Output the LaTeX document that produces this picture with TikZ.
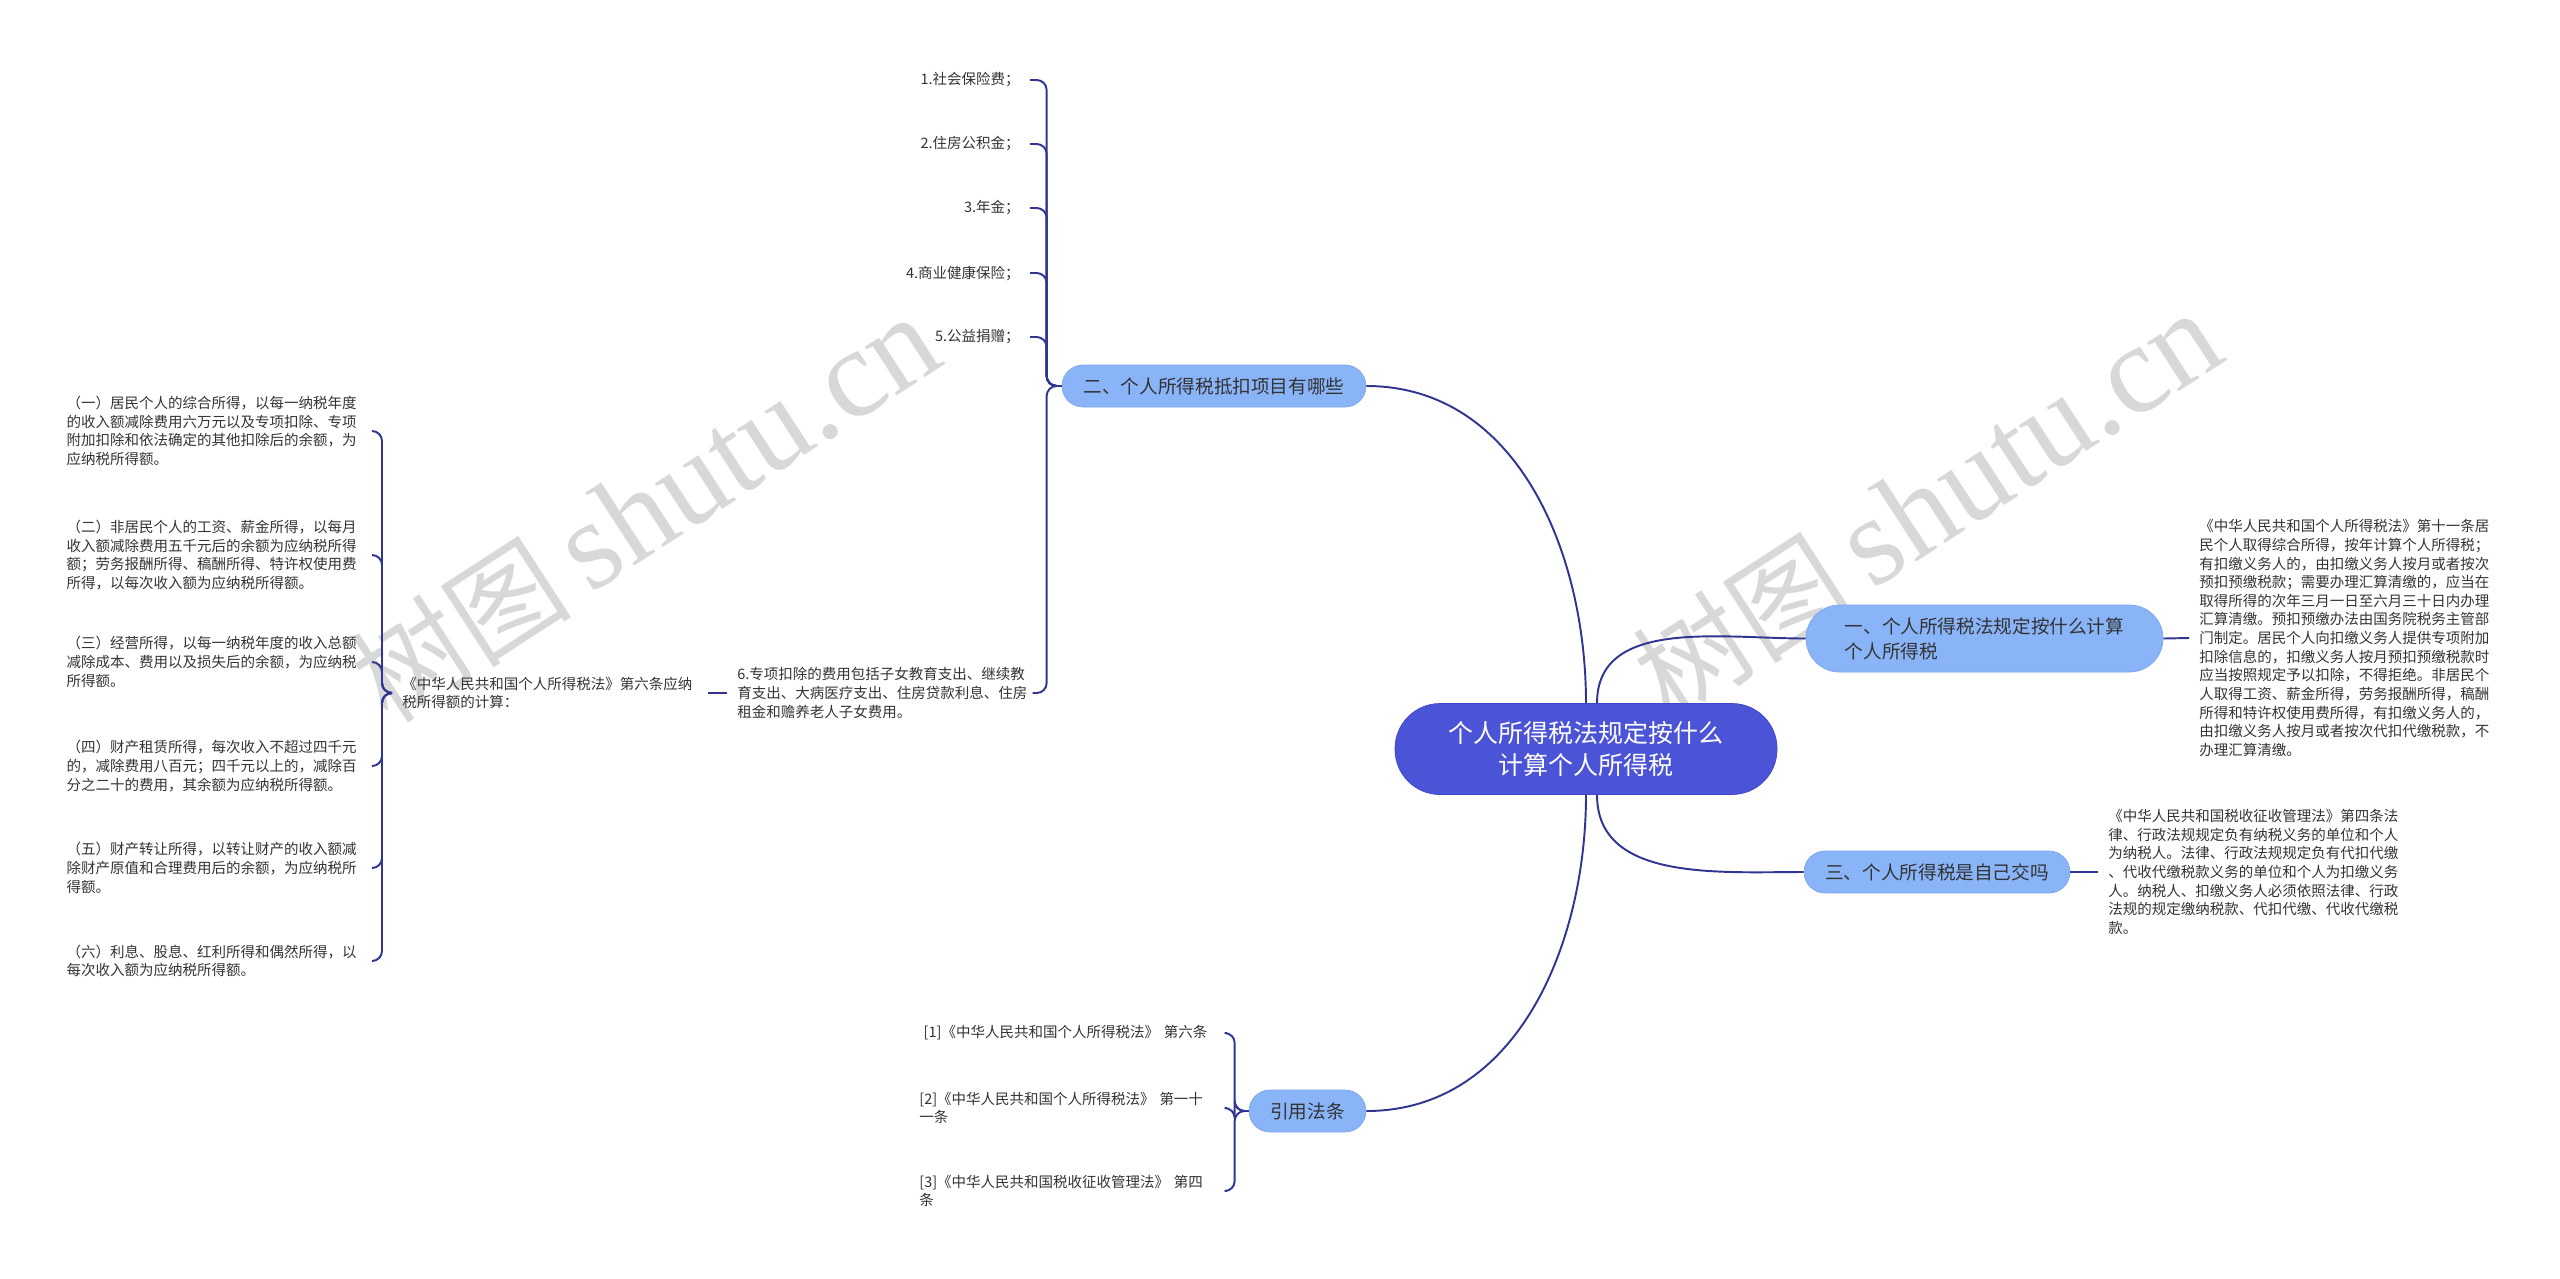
\documentclass[tikz,border=0pt]{standalone}
\usepackage{fontspec}
\usepackage{xcolor}
\usepackage{tikz}
\setmainfont{Noto Sans CJK SC}
\newfontfamily\wmserif{Liberation Serif}
\definecolor{linkblue}{HTML}{2F3590}
\definecolor{rootblue}{HTML}{4B54D6}
\definecolor{rootedge}{HTML}{3F47C4}
\definecolor{branchblue}{HTML}{8AB4F8}
\definecolor{branchedge}{HTML}{7CA5EE}
\definecolor{textgray}{HTML}{333333}
\definecolor{wmgray}{HTML}{D8D8D8}

\begin{document}
\begin{tikzpicture}[
        rootbox/.style={draw=rootedge, fill=rootblue, text=white, rounded corners=0.9cm, minimum width=7.64cm, minimum height=1.82cm, align=center, font=\fontsize{14.2pt}{18.2pt}\selectfont},
        branchbox/.style={draw=branchedge, fill=branchblue, text=textgray, rounded corners=0.42cm, minimum height=0.84cm, align=left, font=\fontsize{10.6pt}{14.2pt}\selectfont},
        leafnote/.style={text=textgray, align=left, text width=5.9cm, inner sep=0.2cm, font=\fontsize{8.25pt}{10.6pt}\selectfont},
        itemnote/.style={text=textgray, inner sep=0.2cm, font=\fontsize{8.25pt}{10.6pt}\selectfont},
        reference/.style={leafnote, text width=5.95cm, anchor=west},
        link/.style={draw=linkblue, line width=1.1pt},
        bracelink/.style={link, rounded corners=0.2cm},
        watermark/.style={text=wmgray, rotate=33, inner sep=0pt}
    ]
        \useasboundingbox (0, 0) rectangle (51.2, -25.56);

        % watermarks
        \node[watermark] (wm1) at (12.9, -10.18) {{\fontsize{63pt}{63pt}\selectfont 树图}\hspace{0.4cm}{\wmserif\fontsize{72pt}{72pt}\selectfont shutu.cn}};
        \node[watermark] (wm2) at (38.54, -10.1) {{\fontsize{63pt}{63pt}\selectfont 树图}\hspace{0.4cm}{\wmserif\fontsize{72pt}{72pt}\selectfont shutu.cn}};

        % centre and main branches
        \node[rootbox] (root) at (31.72, -14.98) {个人所得税法规定按什么\\计算个人所得税};
        \node[branchbox, minimum width=7.14cm, minimum height=1.34cm, rounded corners=0.67cm] (b1) at (39.69, -12.77) {一、个人所得税法规定按什么计算\\个人所得税};
        \node[branchbox, minimum width=6.08cm] (b2) at (24.28, -7.72) {二、个人所得税抵扣项目有哪些};
        \node[branchbox, minimum width=5.32cm] (b3) at (38.74, -17.44) {三、个人所得税是自己交吗};
        \node[branchbox, minimum width=2.34cm] (b4) at (26.15, -22.22) {引用法条};

        \draw[link] ([xshift=0.22cm]root.north) to[out=90, in=180] (b1.west);
        \draw[link] (root.north) to[out=90, in=0] (b2.east);
        \draw[link] ([xshift=0.22cm]root.south) to[out=-90, in=180] (b3.west);
        \draw[link] (root.south) to[out=-90, in=0] (b4.east);

        % branch one
        \node[leafnote, anchor=west] (n1) at (43.78, -12.76) {《中华人民共和国个人所得税法》第十一条居\\民个人取得综合所得，按年计算个人所得税；\\有扣缴义务人的，由扣缴义务人按月或者按次\\预扣预缴税款；需要办理汇算清缴的，应当在\\取得所得的次年三月一日至六月三十日内办理\\汇算清缴。预扣预缴办法由国务院税务主管部\\门制定。居民个人向扣缴义务人提供专项附加\\扣除信息的，扣缴义务人按月预扣预缴税款时\\应当按照规定予以扣除，不得拒绝。非居民个\\人取得工资、薪金所得，劳务报酬所得，稿酬\\所得和特许权使用费所得，有扣缴义务人的，\\由扣缴义务人按月或者按次代扣代缴税款，不\\办理汇算清缴。};
        \draw[link] (b1.east) -- (n1.west);

        % branch three
        \node[leafnote, anchor=west] (n3) at (41.96, -17.44) {《中华人民共和国税收征收管理法》第四条法\\律、行政法规规定负有纳税义务的单位和个人\\为纳税人。法律、行政法规规定负有代扣代缴\\、代收代缴税款义务的单位和个人为扣缴义务\\人。纳税人、扣缴义务人必须依照法律、行政\\法规的规定缴纳税款、代扣代缴、代收代缴税\\款。};
        \draw[link] (b3.east) -- (n3.west);

        % branch two
        \node[itemnote, anchor=east] (c1) at (20.6, -1.6) {1.社会保险费；};
        \node[itemnote, anchor=east] (c2) at (20.6, -2.88) {2.住房公积金；};
        \node[itemnote, anchor=east] (c3) at (20.6, -4.16) {3.年金；};
        \node[itemnote, anchor=east] (c4) at (20.6, -5.46) {4.商业健康保险；};
        \node[itemnote, anchor=east] (c5) at (20.6, -6.74) {5.公益捐赠；};
        \node[leafnote, text width=5.7cm, anchor=west] (c6) at (14.54, -13.86) {6.专项扣除的费用包括子女教育支出、继续教\\育支出、大病医疗支出、住房贷款利息、住房\\租金和赡养老人子女费用。};
        \foreach \c in {c1, c2, c3, c4, c5, c6}
            \draw[bracelink] (b2.west) -- ++(-0.3, 0) |- (\c.east);

        \node[leafnote, anchor=west] (law6) at (7.84, -13.86) {《中华人民共和国个人所得税法》第六条应纳\\税所得额的计算：};
        \draw[link] (c6.west) -- (law6.east);

        \node[leafnote, anchor=east] (d1) at (7.44, -8.62) {（一）居民个人的综合所得，以每一纳税年度\\的收入额减除费用六万元以及专项扣除、专项\\附加扣除和依法确定的其他扣除后的余额，为\\应纳税所得额。};
        \node[leafnote, anchor=east] (d2) at (7.44, -11.1) {（二）非居民个人的工资、薪金所得，以每月\\收入额减除费用五千元后的余额为应纳税所得\\额；劳务报酬所得、稿酬所得、特许权使用费\\所得，以每次收入额为应纳税所得额。};
        \node[leafnote, anchor=east] (d3) at (7.44, -13.24) {（三）经营所得，以每一纳税年度的收入总额\\减除成本、费用以及损失后的余额，为应纳税\\所得额。};
        \node[leafnote, anchor=east] (d4) at (7.44, -15.32) {（四）财产租赁所得，每次收入不超过四千元\\的，减除费用八百元；四千元以上的，减除百\\分之二十的费用，其余额为应纳税所得额。};
        \node[leafnote, anchor=east] (d5) at (7.44, -17.36) {（五）财产转让所得，以转让财产的收入额减\\除财产原值和合理费用后的余额，为应纳税所\\得额。};
        \node[leafnote, anchor=east] (d6) at (7.44, -19.22) {（六）利息、股息、红利所得和偶然所得，以\\每次收入额为应纳税所得额。};
        \foreach \d in {d1, d2, d3, d4, d5, d6}
            \draw[bracelink] (law6.west) -- ++(-0.2, 0) |- (\d.east);

        % references
        \node[reference] (r1) at (18.18, -20.66) {\hspace*{0.3em}[1]《中华人民共和国个人所得税法》~第六条};
        \node[reference] (r2) at (18.18, -22.16) {[2]《中华人民共和国个人所得税法》 第一十\\一条};
        \node[reference] (r3) at (18.18, -23.82) {[3]《中华人民共和国税收征收管理法》 第四\\条};
        \foreach \r in {r1, r2, r3}
            \draw[bracelink] (b4.west) -- ++(-0.28, 0) |- (\r.east);
\end{tikzpicture}
\end{document}
